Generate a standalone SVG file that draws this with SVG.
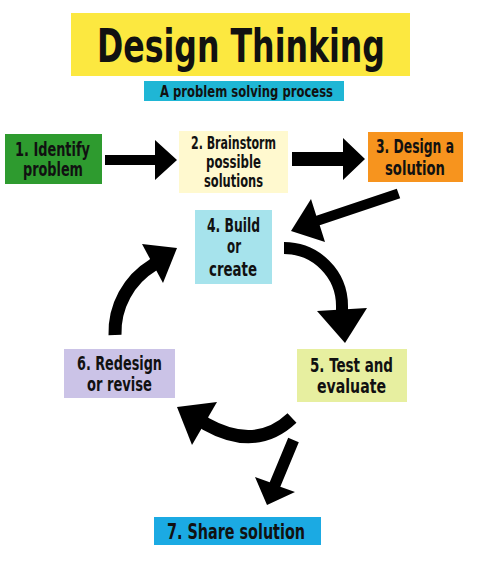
<svg xmlns="http://www.w3.org/2000/svg" width="486" height="562" viewBox="0 0 486 562">
<style>
text{font-family:"DejaVu Sans Condensed","DejaVu Sans","Liberation Sans",sans-serif;font-weight:bold;fill:#111;text-anchor:middle}
.t{font-size:20px}
.s{font-size:18px}
.shaft{fill:none;stroke:#000}
.head{fill:#000}
</style>
<rect width="486" height="562" fill="#fff"/>
<g id="title">
<rect x="71" y="13" width="339" height="63" fill="#FCE840"/>
<text x="241" y="62" style="font-size:47px" textLength="288" lengthAdjust="spacingAndGlyphs">Design Thinking</text>
</g>
<g id="subtitle">
<rect x="144" y="81" width="200" height="20" fill="#1FB6D5"/>
<text x="246.5" y="97" style="font-size:15px" textLength="173" lengthAdjust="spacingAndGlyphs">A problem solving process</text>
</g>
<g id="n1">
<rect x="5" y="134" width="97" height="50" fill="#2E9B2F"/>
<text class="t" x="52.5" y="156" textLength="75" lengthAdjust="spacingAndGlyphs">1. Identify</text>
<text class="t" x="53" y="176" textLength="60" lengthAdjust="spacingAndGlyphs">problem</text>
</g>
<g id="n2">
<rect x="179" y="131" width="109" height="62" fill="#FFF9CF"/>
<text class="s" x="233.5" y="149" textLength="85" lengthAdjust="spacingAndGlyphs">2. Brainstorm</text>
<text class="s" x="233.5" y="168" textLength="55" lengthAdjust="spacingAndGlyphs">possible</text>
<text class="s" x="233.5" y="187" textLength="59" lengthAdjust="spacingAndGlyphs">solutions</text>
</g>
<g id="n3">
<rect x="368" y="132" width="95" height="50" fill="#F7941E"/>
<text class="t" x="415" y="153" textLength="78" lengthAdjust="spacingAndGlyphs">3. Design a</text>
<text class="t" x="415" y="175" textLength="60" lengthAdjust="spacingAndGlyphs">solution</text>
</g>
<g id="n4">
<rect x="195" y="210" width="77" height="74" fill="#A6E3EC"/>
<text class="t" x="233.5" y="232" textLength="53" lengthAdjust="spacingAndGlyphs">4. Build</text>
<text class="t" x="234" y="253" textLength="14" lengthAdjust="spacingAndGlyphs">or</text>
<text class="t" x="233" y="276" textLength="48" lengthAdjust="spacingAndGlyphs">create</text>
</g>
<g id="n5">
<rect x="297" y="349" width="110" height="53" fill="#E7EFA0"/>
<text class="t" x="351.5" y="372" textLength="83" lengthAdjust="spacingAndGlyphs">5. Test and</text>
<text class="t" x="351.5" y="393" textLength="69" lengthAdjust="spacingAndGlyphs">evaluate</text>
</g>
<g id="n6">
<rect x="64" y="349" width="111" height="49" fill="#CBC3E7"/>
<text class="t" x="119.5" y="370" textLength="85" lengthAdjust="spacingAndGlyphs">6. Redesign</text>
<text class="t" x="119.5" y="391" textLength="65" lengthAdjust="spacingAndGlyphs">or revise</text>
</g>
<g id="n7">
<rect x="154" y="517" width="167" height="28" fill="#1BAAE3"/>
<text x="236" y="539" style="font-size:21px" textLength="138" lengthAdjust="spacingAndGlyphs">7. Share solution</text>
</g>
<g id="connectors">
<polygon class="head" points="105,155 155,155 155,140 177,160 155,180 155,165 105,165"/>
<polygon class="head" points="292,152 343,152 343,138 365,159 343,180 343,166 292,166"/>
<polygon class="head" points="396.8,188.8 316.3,215.8 311,199 291,231 325,242 319.7,225.2 400.2,198.2"/>
<path class="shaft" stroke-width="12" d="M284,248 A58,58 0 0 1 342,306 L342,313"/>
<polygon class="head" points="317,311 367,308 345,343"/>
<path class="shaft" stroke-width="13" d="M115,335 A79,79 0 0 1 153,265 L157,262"/>
<polygon class="head" points="142,244 177,248 163,283"/>
<path class="shaft" stroke-width="13" d="M292,418 Q256,452 206,424 L202,421"/>
<polygon class="head" points="217,402 177,407 192,445"/>
<polygon class="head" points="288.2,437.8 269.7,482.3 255,477 267,505 295,492 280.3,486.7 298.8,442.2"/>
</g>
</svg>
